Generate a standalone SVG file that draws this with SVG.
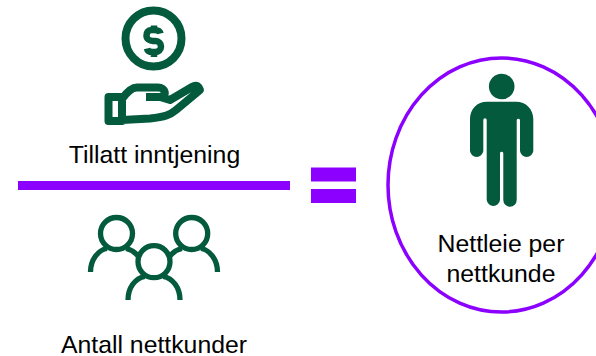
<svg xmlns="http://www.w3.org/2000/svg" width="596" height="356" viewBox="0 0 596 356">
<style>
.t{font-family:"Liberation Sans",Arial,sans-serif;font-size:24.8px;fill:#000;text-anchor:middle}
.g{fill:none;stroke:#035a3c;stroke-linecap:butt;stroke-linejoin:round}
.p{fill:#8b00ff}
</style>
<rect width="596" height="356" fill="#fff"/>
<g id="connectors">
<rect id="fraction-line" class="p" x="18" y="181" width="272" height="9"/>
</g>
<g id="income">
<circle class="g" cx="153.500" cy="38.500" r="28" stroke-width="8"/>
<path class="g" stroke-width="6.500" stroke-linecap="round" d="M160.500 33.500C160 31 157 30 154 30H151.500C148 30 146.500 32.500 146.500 35.500C146.500 39 149.500 41 153 41H155.500C159 41 161 43.500 161 46.500C161 50 158.500 52 155 52H152.500C149.500 52 147.500 51 147 48.500M154 25.500V30M154 52V57"/>
<path class="g" stroke-width="8" d="M108.500 97H122V121H108.500ZM122 99C127 92 132 87.500 137 87.500H158C165 87.500 168 96 160 97H146M160 97L170 100L192 87C197 84 199 87 200 90L176 110C170 115 165 117 150 118.500L122 120"/>
<text class="t" x="154.500" y="163">Tillatt inntjening</text>
</g>
<g id="customers">
<circle class="g" cx="116.500" cy="233.500" r="16" stroke-width="5.300"/>
<circle class="g" cx="191.700" cy="233.500" r="16" stroke-width="5.300"/>
<circle class="g" cx="154" cy="261.700" r="16" stroke-width="5.300"/>
<path class="g" stroke-width="5.300" d="M90.500 272C90.500 260 98 250 107 248.500M126 248.500C131 249.500 135 252 138 256M217.500 272C217.500 260 210 250 201 248.500M182 248.500C177 249.500 173 252 170 256M128 300C128 288 135 278 145 276.500M163 276.500C173 278 180 288 180 300"/>
<text class="t" x="154" y="353">Antall nettkunder</text>
</g>
<g id="equals">
<rect class="p" x="311" y="167.500" width="45" height="14"/>
<rect class="p" x="311" y="189" width="45" height="14"/>
</g>
<g id="fee">
<ellipse cx="501.500" cy="185" rx="113.500" ry="127" fill="none" stroke="#8b00ff" stroke-width="3.500"/>
<circle cx="501.700" cy="86.500" r="12.800" fill="#035a3c"/>
<path fill="#035a3c" d="M487 101.700H516C526 101.700 533.300 109 533.300 119V151A6.700 6.700 0 0 1 520 151V120A1.700 1.700 0 0 0 516.700 120V200A6.700 6.700 0 0 1 503.300 200V153A1.700 1.700 0 0 0 500 153V200A6.700 6.700 0 0 1 486.700 200V120A1.700 1.700 0 0 0 483.300 120V151A6.700 6.700 0 0 1 470 151V119C470 109 477 101.700 487 101.700Z"/>
<text class="t" x="501" y="252">Nettleie per</text>
<text class="t" x="501" y="282">nettkunde</text>
</g>
</svg>
